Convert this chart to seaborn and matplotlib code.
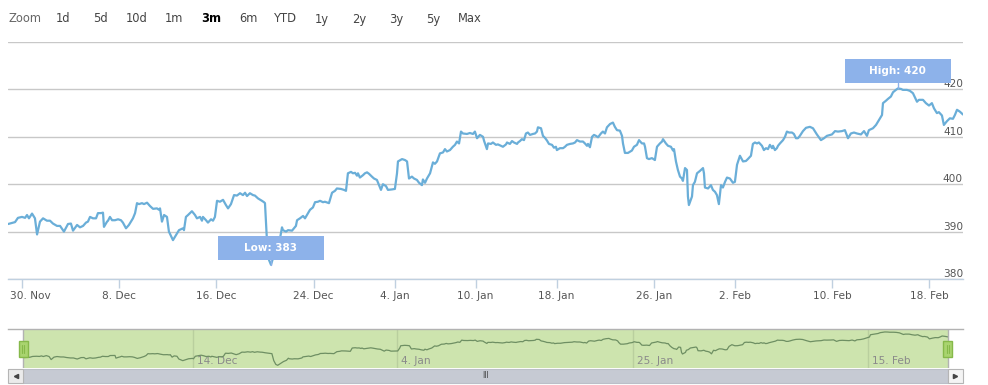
import numpy as np
import pandas as pd
import matplotlib
matplotlib.use("Agg")
import matplotlib.pyplot as plt
import matplotlib.transforms as mtransforms
from matplotlib.patches import Rectangle
from matplotlib.lines import Line2D
import seaborn as sns

# ---- data: ordinal trading-day axis (0 = 30 Nov), price ----
day = [
    -0.86, -0.43, -0.25, 0.00, 0.19, 0.31, 0.43, 0.62, 0.80, 0.93,
    1.11, 1.30, 1.54, 1.73, 1.91, 2.16, 2.35, 2.59, 2.84, 3.02,
    3.15, 3.40, 3.58, 3.77, 3.95, 4.07, 4.20, 4.38, 4.57, 4.69,
    4.88, 5.00, 5.06, 5.25, 5.31, 5.43, 5.56, 5.74, 5.93, 6.11,
    6.23, 6.42, 6.60, 6.85, 6.98, 7.10, 7.22, 7.41, 7.53, 7.72,
    7.90, 8.09, 8.33, 8.46, 8.52, 8.64, 8.77, 8.95, 9.07, 9.32,
    9.51, 9.69, 9.94, 10.00, 10.12, 10.25, 10.49, 10.68, 10.80, 10.99,
    11.11, 11.17, 11.36, 11.48, 11.67, 11.79, 11.91, 12.04, 12.22, 12.41,
    12.59, 12.72, 12.90, 13.09, 13.27, 13.46, 13.64, 13.77, 13.89, 14.07,
    14.26, 14.38, 14.57, 14.81, 14.94, 15.00, 15.06, 15.12, 15.25, 15.37,
    15.56, 15.74, 15.93, 16.05, 16.11, 16.30, 16.42, 16.67, 16.79, 16.91,
    16.98, 17.16, 17.35, 17.47, 17.59, 17.78, 17.96, 18.09, 18.27, 18.40,
    18.58, 18.70, 18.95, 19.14, 19.32, 19.44, 19.69, 19.88, 20.00, 20.12,
    20.31, 20.43, 20.56, 20.68, 20.74, 20.86, 21.05, 21.17, 21.30, 21.42,
    21.60, 21.73, 21.91, 22.04, 22.16, 22.28, 22.47, 22.59, 22.84, 23.02,
    23.15, 23.21, 23.46, 23.64, 23.77, 23.89, 24.07, 24.20, 24.38, 24.51,
    24.69, 24.75, 24.88, 25.00, 25.19, 25.37, 25.49, 25.62, 25.80, 25.99,
    26.11, 26.23, 26.42, 26.60, 26.73, 26.85, 26.98, 27.10, 27.22, 27.47,
    27.65, 27.84, 27.96, 28.09, 28.27, 28.46, 28.52, 28.70, 28.77, 28.95,
    29.07, 29.26, 29.38, 29.57, 29.69, 29.88, 29.94, 30.12, 30.25, 30.37,
    30.56, 30.62, 30.74, 30.86, 30.99, 31.11, 31.23, 31.36, 31.54, 31.67,
    31.79, 31.85, 32.04, 32.16, 32.28, 32.41, 32.53, 32.72, 32.84, 32.96,
    33.02, 33.21, 33.40, 33.52, 33.64, 33.83, 34.01, 34.14, 34.26, 34.44,
    34.63, 34.75, 34.88, 34.94, 35.06, 35.19, 35.31, 35.43, 35.56, 35.74,
    35.86, 35.99, 36.11, 36.30, 36.48, 36.60, 36.73, 36.91, 37.04, 37.10,
    37.22, 37.41, 37.65, 37.78, 37.96, 38.09, 38.27, 38.40, 38.46, 38.58,
    38.70, 38.89, 39.07, 39.20, 39.38, 39.51, 39.57, 39.75, 39.88, 40.06,
    40.19, 40.25, 40.37, 40.49, 40.62, 40.74, 40.80, 40.93, 41.05, 41.11,
    41.17, 41.36, 41.42, 41.54, 41.67, 41.85, 42.04, 42.10, 42.16, 42.35,
    42.53, 42.65, 42.78, 42.90, 43.02, 43.15, 43.27, 43.40, 43.52, 43.70,
    43.89, 44.01, 44.14, 44.32, 44.51, 44.69, 44.81, 45.00, 45.12, 45.25,
    45.37, 45.49, 45.68, 45.80, 45.93, 46.05, 46.17, 46.30, 46.36, 46.48,
    46.60, 46.67, 46.79, 46.98, 47.10, 47.22, 47.35, 47.53, 47.65, 47.78,
    47.90, 48.02, 48.21, 48.40, 48.64, 48.83, 49.07, 49.32, 49.51, 49.69,
    50.00, 50.19, 50.37, 50.62, 50.80, 50.99, 51.17, 51.36, 51.54, 51.79,
    51.98, 52.16, 52.28, 52.53, 52.72, 52.90, 53.09, 53.15, 53.33, 53.46,
    53.64, 53.77, 53.95, 54.07, 54.26, 54.38, 54.63, 54.81, 55.00, 55.25,
    55.37, 55.62, 55.80, 55.99, 56.17, 56.30, 56.48, 56.60, 56.79, 56.91,
    57.10, 57.28, 57.47, 57.59, 57.72, 57.90, 58.09,
]
price = [
    391.6, 392.0, 392.9, 393.1, 392.9, 393.5, 392.8, 393.8, 392.8, 389.4,
    392.1, 392.8, 392.3, 392.3, 391.7, 391.2, 391.2, 390.0, 391.6, 391.7,
    390.2, 391.4, 390.9, 391.2, 391.9, 392.1, 393.1, 392.8, 392.8, 393.9,
    393.9, 394.0, 391.0, 392.1, 392.3, 393.1, 392.4, 392.4, 392.6, 392.4,
    391.9, 390.7, 391.4, 392.8, 393.9, 396.0, 395.8, 396.0, 395.8, 396.1,
    395.4, 394.8, 394.9, 394.6, 394.9, 392.1, 393.5, 393.1, 390.0, 388.2,
    389.3, 390.3, 390.7, 390.3, 393.1, 393.5, 394.3, 393.5, 392.8, 393.1,
    392.3, 393.1, 392.4, 391.9, 392.6, 392.3, 393.1, 396.5, 396.3, 396.7,
    395.6, 394.9, 395.8, 397.7, 397.6, 398.1, 397.7, 398.2, 397.5, 398.1,
    397.7, 397.6, 397.0, 396.5, 396.2, 396.0, 392.1, 388.2, 384.0, 383.0,
    385.1, 387.2, 388.6, 390.9, 390.3, 390.0, 390.3, 390.2, 390.7, 391.2,
    392.4, 392.8, 393.3, 392.8, 393.5, 394.6, 395.1, 396.2, 396.3, 396.5,
    396.2, 396.3, 396.0, 398.2, 398.6, 399.1, 399.0, 398.8, 398.6, 402.3,
    402.6, 402.3, 402.4, 401.8, 402.3, 401.4, 401.9, 402.3, 402.5, 402.2,
    401.6, 401.2, 400.9, 399.8, 398.8, 400.0, 399.6, 398.8, 398.9, 399.0,
    402.3, 404.8, 405.3, 405.1, 404.8, 401.2, 401.6, 401.2, 400.9, 400.3,
    399.8, 401.0, 400.3, 401.2, 402.3, 404.6, 404.3, 404.8, 406.5, 406.7,
    407.4, 406.9, 407.2, 407.9, 408.3, 409.0, 408.6, 411.1, 410.7, 410.6,
    410.8, 410.6, 411.1, 409.7, 410.4, 410.0, 409.2, 407.4, 408.6, 408.5,
    408.8, 408.3, 408.4, 408.1, 407.9, 408.4, 408.8, 408.5, 409.1, 408.8,
    408.5, 408.8, 409.1, 409.5, 409.3, 410.7, 410.9, 410.4, 410.6, 410.7,
    411.1, 412.0, 411.8, 410.2, 409.8, 409.2, 408.5, 408.3, 407.7, 407.9,
    407.2, 407.6, 407.6, 407.9, 408.3, 408.5, 408.6, 408.8, 409.3, 409.0,
    409.0, 408.6, 408.1, 408.5, 407.8, 410.0, 410.4, 410.2, 409.9, 410.7,
    411.1, 410.7, 412.0, 412.7, 413.0, 412.1, 411.4, 411.3, 410.2, 408.6,
    406.6, 406.6, 407.1, 407.9, 408.3, 409.3, 408.6, 408.6, 407.9, 405.5,
    405.3, 405.5, 405.1, 407.9, 408.6, 409.0, 409.5, 408.6, 408.1, 407.9,
    407.1, 407.4, 404.8, 403.0, 401.6, 401.2, 400.7, 403.4, 403.0, 397.4,
    395.6, 397.4, 399.8, 400.5, 402.3, 402.8, 403.4, 402.3, 399.3, 399.1,
    399.8, 398.8, 398.4, 397.7, 395.8, 399.8, 399.3, 400.5, 401.4, 401.2,
    400.3, 400.5, 404.1, 406.0, 404.8, 404.9, 405.3, 406.0, 408.5, 408.8,
    408.6, 408.8, 408.1, 407.2, 407.6, 407.4, 408.3, 407.6, 408.1, 407.2,
    407.6, 408.1, 408.6, 409.3, 410.0, 411.1, 410.9, 410.9, 410.6, 409.7,
    409.7, 410.2, 411.2, 411.9, 412.1, 411.8, 410.5, 409.3, 409.7, 410.2,
    410.5, 411.2, 411.1, 411.2, 411.4, 409.7, 410.7, 410.9, 410.7, 410.5,
    411.2, 410.2, 411.4, 411.8, 412.5, 413.5, 414.6, 417.1, 417.6, 418.0,
    418.5, 419.4, 419.9, 420.2, 420.1, 419.9, 419.9, 419.7, 419.2, 417.4,
    417.8, 417.8, 417.1, 416.6, 417.1, 416.0, 415.0, 415.2, 414.5, 412.5,
    413.3, 413.9, 413.8, 414.6, 415.7, 415.3, 414.7,
]

zoom_buttons = ["1d", "5d", "10d", "1m", "3m", "6m", "YTD", "1y", "2y", "3y", "5y", "Max"]
active_button = "3m"

tick_days = [0, 6, 12, 18, 23, 28, 33, 39, 44, 50, 56]
tick_labels = ["30. Nov", "8. Dec", "16. Dec", "24. Dec", "4. Jan", "10. Jan",
               "18. Jan", "26. Jan", "2. Feb", "10. Feb", "18. Feb"]
price_ticks = [380, 390, 400, 410, 420, 430]

nav_days = [10, 23, 38, 53]
nav_labels = ["14. Dec", "4. Jan", "25. Jan", "15. Feb"]

# ---- style ----
sns.set_style("white")
plt.rcParams["font.family"] = ["DejaVu Sans"]

LINE = "#6aaed8"
FLAG = "#8db2ea"
GRID = "#c8c8c8"
AXIS = "#c0d0e0"
TEXT = "#555555"
MASK = "#cde4ae"
NAV_LINE = "#6e8f63"
FS = 7.6

W, H = 988, 385
fig = plt.figure(figsize=(W / 100, H / 100), dpi=100)


def px_box(x0, y0, x1, y1):
    return [x0 / W, 1 - y1 / H, (x1 - x0) / W, (y1 - y0) / H]


df = pd.DataFrame({"day": day, "price": price})

# range selector buttons
fig.text(25 / W, 1 - 19 / H, "Zoom", ha="center", va="center", fontsize=8.3, color="#666666")
for i, lab in enumerate(zoom_buttons):
    on = lab == active_button
    fig.text((63 + 37 * i) / W, 1 - 19 / H, lab, ha="center", va="center", fontsize=8.3,
             color="black" if on else "#444444", fontweight="bold" if on else "normal")

# ---- main chart ----
ax = fig.add_axes(px_box(8, 42, 963, 279))
sns.lineplot(data=df, x="day", y="price", ax=ax, color=LINE, linewidth=1.6,
             estimator=None, sort=False, zorder=3)
ax.set_xlabel("")
ax.set_ylabel("")
ax.set_yticks(price_ticks)
ax.set_yticklabels([str(v) for v in price_ticks[:-1]] + [""])
ax.tick_params(axis="y", left=False, right=False, labelleft=False, labelright=True,
               length=0, pad=0, labelsize=FS, labelcolor=TEXT)
plt.setp(ax.get_yticklabels(), ha="right", va="bottom")
ax.set_xticks(tick_days, tick_labels)
ax.tick_params(axis="x", bottom=True, direction="out", length=6.5, width=1, color=AXIS,
               pad=2, labelsize=FS, labelcolor=TEXT)
first = ax.xaxis.get_major_ticks()[0].label1
first.set_transform(first.get_transform() +
                    mtransforms.ScaledTranslation(8 / 100, 0, fig.dpi_scale_trans))
for s in ["left", "right", "top"]:
    ax.spines[s].set_visible(False)
ax.spines["bottom"].set_color(AXIS)
ax.spines["bottom"].set_linewidth(1)
ax.grid(axis="y", color=GRID, linewidth=1)
ax.grid(axis="x", visible=False)
ax.set_axisbelow(True)


def flag(x, y, text):
    tr = mtransforms.IdentityTransform() + mtransforms.ScaledTranslation(x, y, ax.transData)
    ax.add_artist(Rectangle((-53, 5), 106, 24, transform=tr, fc=FLAG, ec="none",
                            zorder=5, clip_on=False))
    ax.add_artist(Line2D([0, 0], [0, 5], transform=tr, color=FLAG, lw=1, zorder=5,
                         clip_on=False))
    ax.text(0, 17, text, transform=tr, ha="center", va="center", color="white",
            fontsize=7.5, fontweight="bold", zorder=6, clip_on=False)


i_lo, i_hi = int(np.argmin(price)), int(np.argmax(price))
flag(day[i_lo], price[i_lo], f"Low: {price[i_lo]:.0f}")
flag(day[i_hi], price[i_hi], f"High: {price[i_hi]:.0f}")
ax.set_xlim(-0.864, 58.09)
ax.set_ylim(380, 430)

# ---- navigator ----
nav_lo, nav_hi = -1.82, 59.05
nav = fig.add_axes(px_box(8, 329, 963, 368))
nav.axvspan(day[0], day[-1], color=MASK, lw=0, zorder=0)
for d, lab in zip(nav_days, nav_labels):
    nav.axvline(d, color="#b9cf9e", lw=1, zorder=1)
    nav.annotate(lab, xy=(d, 0), xycoords=("data", "axes fraction"), xytext=(4, 2),
                 textcoords="offset pixels", ha="left", va="bottom", fontsize=FS,
                 color="#8a8a8a", zorder=2)
sns.lineplot(data=df, x="day", y="price", ax=nav, color=NAV_LINE, linewidth=0.9,
             estimator=None, sort=False, zorder=3)
nav.axvline(day[0], color="#b2b2b2", lw=1, zorder=4)
nav.axvline(day[-1], color="#b2b2b2", lw=1, zorder=4)
nav.set_xlabel("")
nav.set_ylabel("")
nav.set_xticks([])
nav.set_yticks([])
for s in ["left", "right", "bottom"]:
    nav.spines[s].set_visible(False)
nav.spines["top"].set_color("#b2b2b2")
nav.spines["top"].set_linewidth(1)
hb = mtransforms.blended_transform_factory(nav.transData, nav.transAxes)
for d in (day[0], day[-1]):
    tr = mtransforms.IdentityTransform() + mtransforms.ScaledTranslation(d, 0.5, hb)
    nav.add_artist(Rectangle((-4.5, -8), 9, 16, transform=tr, fc="#a9d46f", ec="#86b94a",
                             lw=1, zorder=6, clip_on=False))
    nav.add_artist(Line2D([-1, -1], [-4, 4], transform=tr, color="#86b94a", lw=0.8,
                          zorder=7, clip_on=False))
    nav.add_artist(Line2D([1, 1], [-4, 4], transform=tr, color="#86b94a", lw=0.8,
                          zorder=7, clip_on=False))
nav.set_xlim(nav_lo, nav_hi)
nav.set_ylim(380, 423.5)

# ---- scrollbar ----
sb = fig.add_axes(px_box(8, 369, 963, 383))
sb.set_xlim(nav_lo, nav_hi)
sb.set_ylim(0, 1)
sb.axis("off")
sb.add_patch(Rectangle((nav_lo, 0), nav_hi - nav_lo, 1, fc="#f2f2f2", ec="none", clip_on=False))
sb.add_patch(Rectangle((day[0], 0), day[-1] - day[0], 1, fc="#c6cad3", ec="#bbbfc8",
                       lw=0.8, clip_on=False))
sb.add_patch(Rectangle((nav_lo, 0), day[0] - nav_lo, 1, fc="#ebebeb", ec="#b5b5b5",
                       lw=0.8, clip_on=False))
sb.add_patch(Rectangle((day[-1], 0), nav_hi - day[-1], 1, fc="#f4f4f4", ec="#b5b5b5",
                       lw=0.8, clip_on=False))
sb.plot((nav_lo + day[0]) / 2, 0.5, marker="<", ms=3, color="#444444")
sb.plot((day[-1] + nav_hi) / 2, 0.5, marker=">", ms=3, color="#444444")
sb.text((day[0] + day[-1]) / 2, 0.5, "III", ha="center", va="center", fontsize=5.5,
        color="#444444")

fig.savefig("out.png", dpi=100)
